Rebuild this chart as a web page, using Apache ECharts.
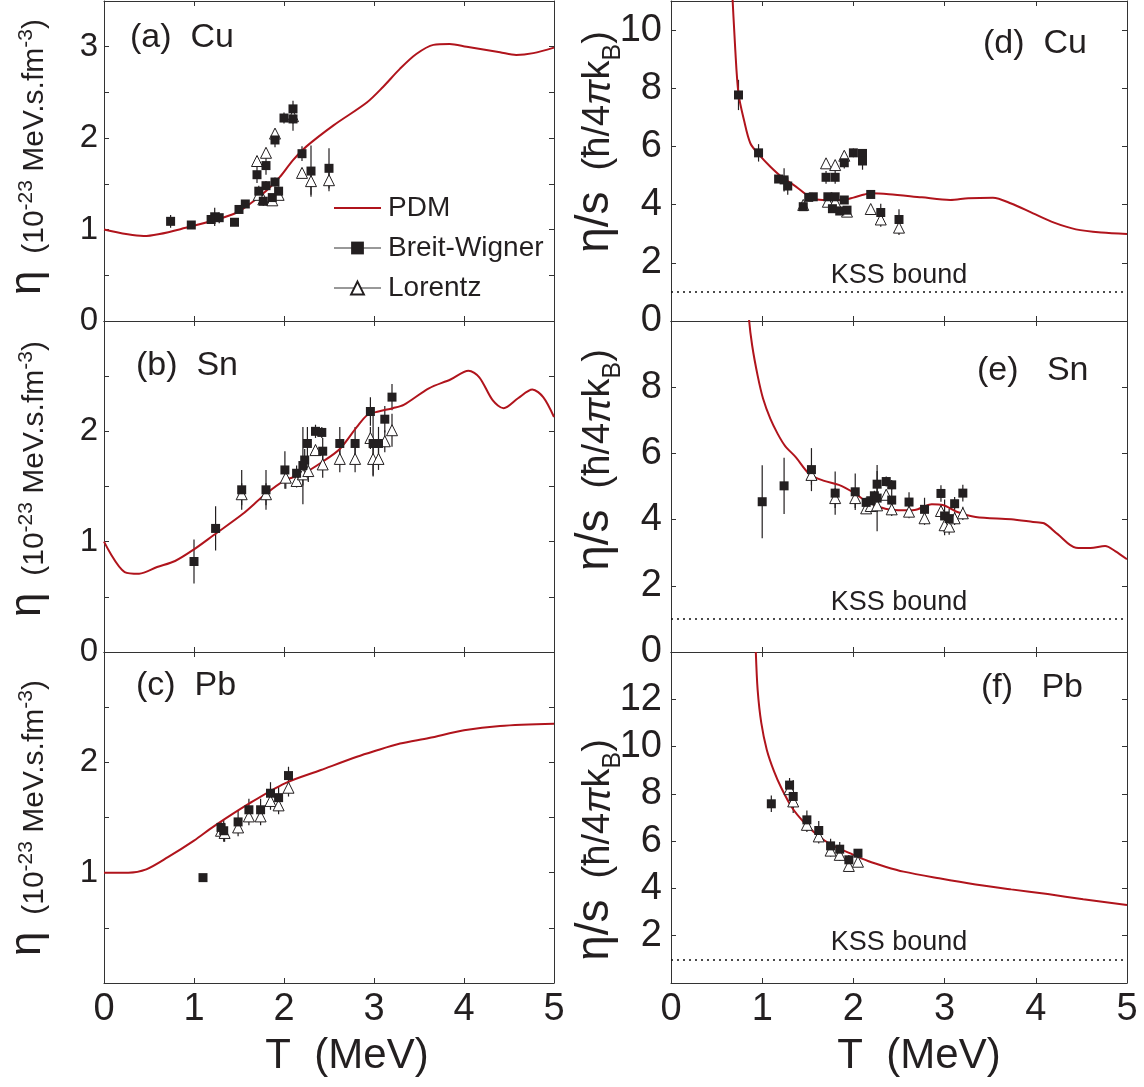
<!DOCTYPE html>
<html><head><meta charset="utf-8">
<script src="https://cdn.jsdelivr.net/npm/echarts@6/dist/echarts.min.js"></script>
<style>html,body{margin:0;padding:0;background:#fff}#c{width:1144px;height:1087px}</style>
</head><body><div id="c"></div><script>
// ---------- data ----------
const tTicks = [0, 1, 2, 3, 4, 5];
const yLabelsA = [0, 1, 2, 3];
const yLabelsB = [0, 1, 2];
const yLabelsC = [1, 2];
const yLabelsD = [0, 2, 4, 6, 8, 10];
const yLabelsE = [0, 2, 4, 6, 8];
const yLabelsF = [2, 4, 6, 8, 10, 12];
const kssBound = 1;

// (a) Cu viscosity
const cuEtaPDM = [[0,1.0],[0.44,0.93],[0.95,1.03],[1.44,1.17],[1.62,1.28],[1.81,1.43],[1.95,1.57],[2.10,1.76],[2.25,1.91],[2.55,2.14],[2.92,2.39],[3.10,2.56],[3.29,2.76],[3.47,2.92],[3.66,3.02],[3.84,3.03],[4.03,3.00],[4.40,2.94],[4.58,2.91],[4.77,2.93],[5.0,2.99]];
const cuEtaBW = [[0.74,1.09,0.07],[0.97,1.05,0.04],[1.19,1.11,0.04],[1.23,1.14,0.10],[1.28,1.13,0.06],[1.45,1.08,0.03],[1.50,1.22,0.03],[1.57,1.28,0.03],[1.70,1.60,0.09],[1.72,1.42,0.06],[1.77,1.31,0.05],[1.80,1.70,0.10],[1.80,1.48,0.05],[1.87,1.35,0.04],[1.90,1.52,0.05],[1.90,1.98,0.08],[1.94,1.42,0.05],[2.00,2.22,0.06],[2.10,2.32,0.09],[2.10,2.21,0.13],[2.20,1.83,0.08],[2.30,1.64,0.28],[2.50,1.67,0.22]];
const cuEtaLor = [[1.70,1.75,0.05],[1.72,1.38,0.05],[1.77,1.33,0.05],[1.80,1.84,0.05],[1.87,1.32,0.04],[1.90,2.05,0.05],[1.94,1.38,0.05],[2.10,2.24,0.08],[2.20,1.62,0.05],[2.30,1.53,0.15],[2.50,1.54,0.12]];

// (b) Sn viscosity
const snEtaPDM = [[0,1.0],[0.23,0.725],[0.39,0.71],[0.59,0.77],[0.79,0.825],[1.0,0.93],[1.22,1.06],[1.54,1.25],[1.78,1.42],[2.0,1.55],[2.22,1.62],[2.42,1.72],[2.62,1.84],[2.81,2.04],[2.93,2.15],[3.05,2.18],[3.21,2.21],[3.33,2.24],[3.61,2.39],[3.85,2.47],[4.05,2.55],[4.17,2.49],[4.32,2.28],[4.44,2.21],[4.60,2.30],[4.76,2.38],[4.88,2.31],[5.0,2.13]];
const snEtaBW = [[1.00,0.82,0.20],[1.24,1.12,0.20],[1.53,1.47,0.18],[1.80,1.47,0.18],[2.01,1.65,0.17],[2.14,1.62,0.07],[2.21,1.69,0.35],[2.23,1.74,0.10],[2.26,1.89,0.15],[2.35,2.00,0.06],[2.42,1.99,0.05],[2.43,1.82,0.12],[2.62,1.89,0.15],[2.79,1.89,0.15],[2.96,2.18,0.13],[2.99,1.89,0.30],[3.05,1.89,0.15],[3.12,2.11,0.12],[3.20,2.31,0.12]];
const snEtaLor = [[1.53,1.43,0.10],[1.80,1.43,0.10],[2.02,1.58,0.10],[2.14,1.55,0.06],[2.21,1.61,0.10],[2.27,1.64,0.10],[2.35,1.83,0.05],[2.43,1.70,0.12],[2.62,1.75,0.12],[2.79,1.75,0.12],[2.96,1.94,0.10],[2.99,1.75,0.15],[3.05,1.75,0.10],[3.12,1.91,0.10],[3.20,2.01,0.15]];

// (c) Pb viscosity
const pbEtaPDM = [[0,1.0],[0.27,1.0],[0.47,1.03],[0.71,1.14],[1.0,1.29],[1.22,1.42],[1.62,1.63],[2.01,1.81],[2.41,1.93],[2.81,2.05],[3.0,2.10],[3.29,2.17],[3.61,2.22],[4.0,2.29],[4.40,2.33],[5.0,2.35]];
const pbEtaBW = [[1.10,0.955,0.03],[1.30,1.41,0.05],[1.33,1.38,0.10],[1.49,1.46,0.10],[1.61,1.57,0.10],[1.74,1.57,0.10],[1.85,1.72,0.10],[1.94,1.68,0.10],[2.05,1.88,0.08]];
const pbEtaLor = [[1.30,1.38,0.05],[1.34,1.36,0.08],[1.49,1.41,0.08],[1.61,1.51,0.08],[1.74,1.51,0.08],[1.85,1.65,0.08],[1.94,1.61,0.08],[2.05,1.77,0.08]];

// (d) Cu eta/s
const cuRatioPDM = [[0.66,12.0],[0.705,9.31],[0.74,7.82],[0.80,6.91],[0.87,6.11],[0.97,5.70],[1.09,5.30],[1.21,4.96],[1.37,4.62],[1.49,4.33],[1.60,4.18],[1.76,4.16],[1.88,4.16],[2.0,4.24],[2.12,4.35],[2.19,4.39],[2.39,4.36],[2.75,4.25],[3.06,4.16],[3.26,4.22],[3.53,4.24],[3.73,4.04],[3.97,3.70],[4.20,3.38],[4.44,3.15],[4.72,3.04],[5.0,2.99]];
const cuRatioBW = [[0.74,7.77,0.52],[0.96,5.78,0.30],[1.18,4.88,0.10],[1.24,4.85,0.40],[1.28,4.64,0.30],[1.45,3.93,0.08],[1.51,4.25,0.08],[1.56,4.27,0.08],[1.70,4.94,0.22],[1.72,4.27,0.10],[1.77,3.86,0.10],[1.80,4.94,0.22],[1.80,4.27,0.10],[1.85,3.78,0.10],[1.90,5.44,0.20],[1.90,4.16,0.10],[1.93,3.81,0.10],[2.00,5.78,0.15],[2.10,5.76,0.15],[2.10,5.50,0.30],[2.19,4.35,0.08],[2.30,3.73,0.30],[2.50,3.49,0.35]];
const cuRatioLor = [[1.45,3.99,0.08],[1.70,5.42,0.15],[1.72,4.10,0.10],[1.80,5.36,0.15],[1.80,4.10,0.10],[1.90,5.68,0.15],[1.93,3.76,0.10],[2.19,3.85,0.08],[2.30,3.49,0.25],[2.50,3.21,0.25]];

// (e) Sn eta/s
const snRatioPDM = [[0.84,11.0],[0.855,10.07],[0.89,9.26],[0.95,8.35],[1.01,7.65],[1.09,7.04],[1.17,6.59],[1.25,6.23],[1.37,5.88],[1.52,5.37],[1.68,5.17],[1.84,5.05],[2.0,4.82],[2.16,4.52],[2.35,4.33],[2.55,4.28],[2.67,4.29],[2.86,4.46],[2.98,4.44],[3.14,4.23],[3.34,4.08],[3.73,4.01],[3.97,3.93],[4.09,3.89],[4.24,3.56],[4.44,3.15],[4.60,3.14],[4.76,3.20],[4.87,3.05],[5.0,2.80]];
const snRatioBW = [[1.00,4.54,1.10],[1.24,5.02,0.85],[1.54,5.51,0.65],[1.80,4.80,0.65],[2.02,4.84,0.55],[2.14,4.52,0.15],[2.19,4.57,0.15],[2.23,4.72,0.15],[2.26,5.07,0.40],[2.26,4.65,1.00],[2.36,5.15,0.15],[2.42,5.05,0.15],[2.42,4.59,0.40],[2.61,4.53,0.30],[2.78,4.31,0.35],[2.96,4.79,0.25],[3.00,4.11,0.50],[3.05,4.03,0.30],[3.11,4.48,0.20],[3.20,4.80,0.25]];
const snRatioLor = [[1.54,5.35,0.30],[1.80,4.65,0.30],[2.02,4.65,0.30],[2.14,4.34,0.15],[2.19,4.41,0.15],[2.26,4.43,0.20],[2.36,4.75,0.15],[2.42,4.31,0.20],[2.61,4.24,0.20],[2.78,4.04,0.20],[2.96,4.26,0.20],[3.00,3.83,0.30],[3.05,3.79,0.25],[3.11,4.04,0.20],[3.20,4.19,0.20]];

// (f) Pb eta/s
const pbRatioPDM = [[0.93,14.0],[0.95,12.4],[0.99,11.0],[1.05,9.87],[1.13,8.95],[1.21,8.25],[1.33,7.40],[1.45,6.83],[1.60,6.27],[1.76,5.84],[1.96,5.49],[2.16,5.16],[2.35,4.92],[2.55,4.71],[2.94,4.43],[3.34,4.17],[3.73,3.96],[4.13,3.76],[4.52,3.54],[5.0,3.30]];
const pbRatioBW = [[1.10,7.58,0.35],[1.30,8.37,0.30],[1.34,7.89,0.70],[1.49,6.90,0.40],[1.62,6.45,0.40],[1.75,5.80,0.30],[1.85,5.66,0.30],[1.95,5.21,0.20],[2.05,5.49,0.15]];
const pbRatioLor = [[1.30,8.20,0.20],[1.34,7.68,0.30],[1.49,6.69,0.30],[1.62,6.20,0.30],[1.75,5.60,0.25],[1.85,5.42,0.25],[1.95,4.95,0.20],[2.05,5.13,0.15]];

// ---------- styling / layout ----------
const FONT = '"Liberation Sans", Arial, Helvetica, sans-serif';
const INK = '#231f20';
const AX = '#333';
const RED = '#b0141c';

const panels = [
  {grid:{left:104, top:1,   width:450, height:320}, yMax:3.5, yInt:0.5, labels:yLabelsA, lsize:33, lmargin:6, pdm:cuEtaPDM, bw:cuEtaBW, lor:cuEtaLor, kss:false, showX:false},
  {grid:{left:104, top:321, width:450, height:331}, yMax:3,   yInt:0.5, labels:yLabelsB, lsize:33, lmargin:6, pdm:snEtaPDM, bw:snEtaBW, lor:snEtaLor, kss:false, showX:false},
  {grid:{left:104, top:652, width:450, height:331}, yMax:3,   yInt:0.5, labels:yLabelsC, lsize:33, lmargin:6, pdm:pbEtaPDM, bw:pbEtaBW, lor:pbEtaLor, kss:false, showX:true},
  {grid:{left:671, top:1,   width:456, height:320}, yMax:11,  yInt:2,   labels:yLabelsD, lsize:38, lmargin:9, pdm:cuRatioPDM, bw:cuRatioBW, lor:cuRatioLor, kss:true, showX:false},
  {grid:{left:671, top:321, width:456, height:331}, yMax:10,  yInt:2,   labels:yLabelsE, lsize:38, lmargin:9, pdm:snRatioPDM, bw:snRatioBW, lor:snRatioLor, kss:true, showX:false},
  {grid:{left:671, top:652, width:456, height:331}, yMax:14,  yInt:2,   labels:yLabelsF, lsize:38, lmargin:9, pdm:pbRatioPDM, bw:pbRatioBW, lor:pbRatioLor, kss:true, showX:true}
];

function errBar(params, api) {
  const x = api.value(0), y = api.value(1), e = api.value(2);
  const p1 = api.coord([x, y - e]), p2 = api.coord([x, y + e]);
  return {type:'line', shape:{x1:p1[0], y1:p1[1], x2:p2[0], y2:p2[1]}, style:{stroke:INK, lineWidth:1.2}};
}

const grids = [], xAxes = [], yAxes = [], series = [];
const axLine = {onZero:false, lineStyle:{color:AX, width:1}};
const axTick = {inside:true, length:5, lineStyle:{color:AX, width:1}};

panels.forEach((p, i) => {
  grids.push(Object.assign({containLabel:false}, p.grid));
  xAxes.push({type:'value', gridIndex:i, min:tTicks[0], max:tTicks[tTicks.length-1], interval:1, position:'bottom',
    axisLine:axLine, axisTick:axTick, splitLine:{show:false},
    axisLabel:{show:p.showX, fontSize:38, color:INK, fontFamily:FONT, margin:8}});
  xAxes.push({type:'value', gridIndex:i, min:tTicks[0], max:tTicks[tTicks.length-1], interval:1, position:'top',
    axisLine:axLine, axisTick:axTick, splitLine:{show:false}, axisLabel:{show:false}});
  const labs = p.labels;
  yAxes.push({type:'value', gridIndex:i, min:0, max:p.yMax, interval:p.yInt, position:'left',
    axisLine:axLine, axisTick:axTick, splitLine:{show:false},
    axisLabel:{fontSize:p.lsize, color:INK, fontFamily:FONT, margin:p.lmargin,
      formatter: v => labs.indexOf(v) >= 0 ? String(v) : ''}});
  yAxes.push({type:'value', gridIndex:i, min:0, max:p.yMax, interval:p.yInt, position:'right',
    axisLine:axLine, axisTick:axTick, splitLine:{show:false}, axisLabel:{show:false}});

  const xi = 2*i, yi = 2*i;
  const pdm = {name:'PDM', type:'line', xAxisIndex:xi, yAxisIndex:yi, data:p.pdm, symbol:'none',
    smooth:0.3, clip:true, z:3,
    lineStyle:{color:RED, width:2}, itemStyle:{color:RED}};
  if (p.kss) {
    pdm.markLine = {silent:true, symbol:['none','none'], animation:false,
      lineStyle:{color:'#111', width:1.6, type:[2,4]},
      label:{show:true, formatter:'KSS bound', position:'insideMiddleTop', distance:3,
        fontSize:27, color:INK, fontFamily:FONT},
      data:[{yAxis:kssBound}]};
  }
  series.push(pdm);
  series.push({type:'custom', name:'errLor', xAxisIndex:xi, yAxisIndex:yi, data:p.lor, renderItem:errBar, encode:{x:0, y:1}, z:1, silent:true});
  series.push({type:'custom', name:'errBW', xAxisIndex:xi, yAxisIndex:yi, data:p.bw, renderItem:errBar, encode:{x:0, y:1}, z:1, silent:true});
  series.push({name:'Lorentz', type:'line', xAxisIndex:xi, yAxisIndex:yi, data:p.lor, symbol:'triangle', symbolSize:11,
    showSymbol:true, lineStyle:{opacity:0, width:0}, z:4,
    itemStyle:{color:'#fff', borderColor:INK, borderWidth:1}});
  series.push({name:'Breit-Wigner', type:'line', xAxisIndex:xi, yAxisIndex:yi, data:p.bw, symbol:'rect', symbolSize:9,
    showSymbol:true, lineStyle:{opacity:0, width:0}, z:5,
    itemStyle:{color:INK, borderWidth:0}});
});

// ---------- titles ----------
const leftRich = {
  eta:{fontSize:44, lineHeight:44, verticalAlign:'bottom', fontFamily:FONT, fill:INK},
  t:{fontSize:30, lineHeight:30, verticalAlign:'bottom', fontFamily:FONT, fill:INK},
  sup:{fontSize:21, lineHeight:21, verticalAlign:'bottom', padding:[0,0,13,0], fontFamily:FONT, fill:INK}
};
const leftTitle = '{eta|η}{t|  (10}{sup|-23}{t| MeV.s.fm}{sup|-3}{t|)}';
const rightRich = {
  eta:{fontSize:46, lineHeight:46, verticalAlign:'bottom', padding:[0,0,8,0], fontFamily:FONT, fill:INK},
  t:{fontSize:38, lineHeight:38, verticalAlign:'bottom', padding:[0,0,8,0], fontFamily:FONT, fill:INK},
  pi:{fontSize:38, lineHeight:38, verticalAlign:'bottom', padding:[0,0,8,0], fontStyle:'italic', fontFamily:FONT, fill:INK},
  sub:{fontSize:25, lineHeight:25, verticalAlign:'bottom', fontFamily:FONT, fill:INK}
};
const rightTitle = '{eta|η/s}{t|  (ħ/4}{pi|π}{t|k}{sub|B}{t|)}';

function yTitle(x, y, text, rich) {
  return {type:'text', x:x, y:y, rotation:Math.PI/2, silent:true,
    style:{text:text, rich:rich, align:'center', verticalAlign:'middle', fill:INK, fontFamily:FONT}};
}
function label(x, y, text, size) {
  return {type:'text', x:x, y:y, silent:true,
    style:{text:text, fontSize:size, fontFamily:FONT, fill:INK, align:'left', verticalAlign:'middle'}};
}
function centered(x, y, text, size) {
  return {type:'text', x:x, y:y, silent:true,
    style:{text:text, fontSize:size, fontFamily:FONT, fill:INK, align:'center', verticalAlign:'middle'}};
}

const graphic = [
  yTitle(28, 157, leftTitle, leftRich),
  yTitle(28, 479, leftTitle, leftRich),
  yTitle(28, 818, leftTitle, leftRich),
  yTitle(603, 142, rightTitle, rightRich),
  yTitle(603, 460, rightTitle, rightRich),
  yTitle(603, 850, rightTitle, rightRich),
  label(130, 38, '(a)  Cu', 34),
  label(136, 366, '(b)  Sn', 34),
  label(136, 686, '(c)  Pb', 34),
  label(983, 44, '(d)  Cu', 34),
  label(977, 371, '(e)   Sn', 34),
  label(981, 688, '(f)   Pb', 34),
  centered(347, 1056, 'T  (MeV)', 42),
  centered(919, 1056, 'T  (MeV)', 42)
];

const chart = echarts.init(document.getElementById('c'), null, {renderer:'canvas'});
chart.setOption({
  animation:false,
  backgroundColor:'#fff',
  grid:grids, xAxis:xAxes, yAxis:yAxes, series:series, graphic:graphic,
  legend:{
    data:[
      {name:'PDM', itemStyle:{opacity:0}},
      {name:'Breit-Wigner', lineStyle:{color:AX, width:1, opacity:1}},
      {name:'Lorentz', lineStyle:{color:AX, width:1, opacity:1}}
    ],
    orient:'vertical', left:328, top:188, itemWidth:47, itemHeight:16, itemGap:10,
    selectedMode:false,
    textStyle:{fontSize:28, color:INK, fontFamily:FONT, lineHeight:30, padding:[0,0,0,2]}
  }
});
</script></body></html>
